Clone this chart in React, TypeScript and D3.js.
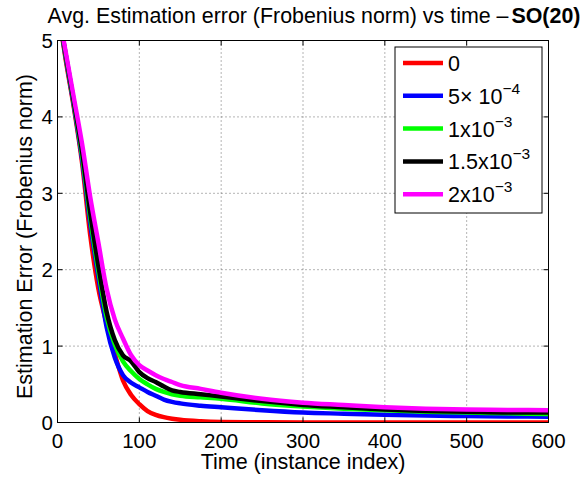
import React from "react";
import * as d3 from "d3";

const times = [0, 10, 20, 30, 40, 50, 60, 70, 80, 90, 100, 110, 120, 130, 140, 150, 175, 200, 250, 300, 350, 400, 450, 500, 550, 600];
const seriesRed = [5.45, 4.75, 4.12, 3.4, 2.45, 1.75, 1.3, 0.9, 0.55, 0.36, 0.24, 0.15, 0.1, 0.07, 0.05, 0.035, 0.015, 0.006, 0.002, 0, 0, 0, 0, 0, 0, 0];
const seriesBlue = [5.45, 4.78, 4.15, 3.45, 2.6, 1.9, 1.25, 0.85, 0.62, 0.52, 0.46, 0.4, 0.35, 0.3, 0.27, 0.25, 0.22, 0.2, 0.16, 0.13, 0.115, 0.1, 0.09, 0.085, 0.08, 0.075];
const seriesGreen = [5.45, 4.8, 4.18, 3.5, 2.68, 1.98, 1.38, 1.02, 0.8, 0.67, 0.57, 0.5, 0.44, 0.4, 0.37, 0.35, 0.33, 0.31, 0.25, 0.21, 0.18, 0.16, 0.14, 0.13, 0.12, 0.11];
const seriesBlack = [5.45, 4.82, 4.2, 3.55, 2.75, 2.05, 1.45, 1.08, 0.88, 0.8, 0.66, 0.58, 0.53, 0.47, 0.42, 0.4, 0.37, 0.34, 0.28, 0.23, 0.2, 0.17, 0.15, 0.14, 0.13, 0.13];
const seriesMagenta = [5.45, 4.85, 4.25, 3.65, 2.95, 2.35, 1.75, 1.35, 1.1, 0.88, 0.75, 0.68, 0.62, 0.57, 0.53, 0.49, 0.44, 0.39, 0.31, 0.26, 0.23, 0.2, 0.18, 0.17, 0.165, 0.16];

const seriesValues = [seriesRed, seriesBlue, seriesGreen, seriesBlack, seriesMagenta];
const seriesColors = ["#ff0000", "#0000ff", "#00ff00", "#000000", "#ff00ff"];
const legendBase = ["0", "5\u00d7 10", "1x10", "1.5x10", "2x10"];
const legendExp = ["", "\u22124", "\u22123", "\u22123", "\u22123"];

const xTicks = [0, 100, 200, 300, 400, 500, 600];
const yTicks = [0, 1, 2, 3, 4, 5];

export default function App() {
  const W = 586, H = 480;
  const left = 57.5, right = 548.5, top = 40.5, bottom = 422.5;
  const x = d3.scaleLinear().domain([0, 600]).range([left, right]);
  const y = d3.scaleLinear().domain([0, 5]).range([bottom, top]);
  const line = d3
    .line<number>()
    .x((_, i) => x(times[i]))
    .y((d) => y(d))
    .curve(d3.curveMonotoneX);
  const font = "'Liberation Sans', Arial, Helvetica, sans-serif";
  const tickLen = 5;

  return (
    <svg width={W} height={H} style={{ position: "absolute", left: 0, top: 0, background: "#fff" }} fontFamily={font}>
      <rect x={0} y={0} width={W} height={H} fill="#fff" />
      <defs>
        <clipPath id="plotClip">
          <rect x={left} y={top} width={right - left} height={bottom - top} />
        </clipPath>
      </defs>
      {xTicks.slice(1, -1).map((t) => (
        <line key={"gx" + t} x1={x(t)} x2={x(t)} y1={top} y2={bottom} stroke="#444" strokeWidth={0.8} strokeDasharray="1,3" />
      ))}
      {yTicks.slice(1, -1).map((t) => (
        <line key={"gy" + t} x1={left} x2={right} y1={y(t)} y2={y(t)} stroke="#444" strokeWidth={0.8} strokeDasharray="1,3" />
      ))}
      <g clipPath="url(#plotClip)">
        {seriesValues.map((s, i) => (
          <path key={i} d={line(s) || ""} fill="none" stroke={seriesColors[i]} strokeWidth={4.5} strokeLinejoin="round" />
        ))}
      </g>
      <rect x={left} y={top} width={right - left} height={bottom - top} fill="none" stroke="#000" strokeWidth={1} />
      {xTicks.map((t) => (
        <g key={"tx" + t}>
          <line x1={x(t)} x2={x(t)} y1={bottom} y2={bottom - tickLen} stroke="#000" />
          <line x1={x(t)} x2={x(t)} y1={top} y2={top + tickLen} stroke="#000" />
          <text x={x(t)} y={447.5} fontSize={20.5} textAnchor="middle">{t}</text>
        </g>
      ))}
      {yTicks.map((t) => (
        <g key={"ty" + t}>
          <line x1={left} x2={left + tickLen} y1={y(t)} y2={y(t)} stroke="#000" />
          <line x1={right} x2={right - tickLen} y1={y(t)} y2={y(t)} stroke="#000" />
          <text x={53} y={y(t) + 7.5} fontSize={20.5} textAnchor="end">{t}</text>
        </g>
      ))}
      <text x={303} y={469} fontSize={21.5} textAnchor="middle">Time (instance index)</text>
      <text transform={`translate(32,${(top + bottom) / 2 + 5}) rotate(-90)`} fontSize={21.5} textAnchor="middle">Estimation Error (Frobenius norm)</text>
      <text x={314} y={22.5} fontSize={21.4} textAnchor="middle">
        Avg. Estimation error (Frobenius norm) vs time {"\u2013"}<tspan dx={3} fontWeight="bold">SO(20)</tspan>
      </text>
      <rect x={395} y={47} width={147} height={166} fill="#fff" stroke="#000" strokeWidth={1} />
      {seriesColors.map((c, i) => {
        const ly = 63 + i * 32.8;
        return (
          <g key={"lg" + i}>
            <line x1={403} x2={443} y1={ly} y2={ly} stroke={c} strokeWidth={4.5} />
            <text x={448} y={ly + 8} fontSize={21.5}>
              {legendBase[i]}
              {legendExp[i] && <tspan dy={-10} fontSize={15.5}>{legendExp[i]}</tspan>}
            </text>
          </g>
        );
      })}
    </svg>
  );
}
